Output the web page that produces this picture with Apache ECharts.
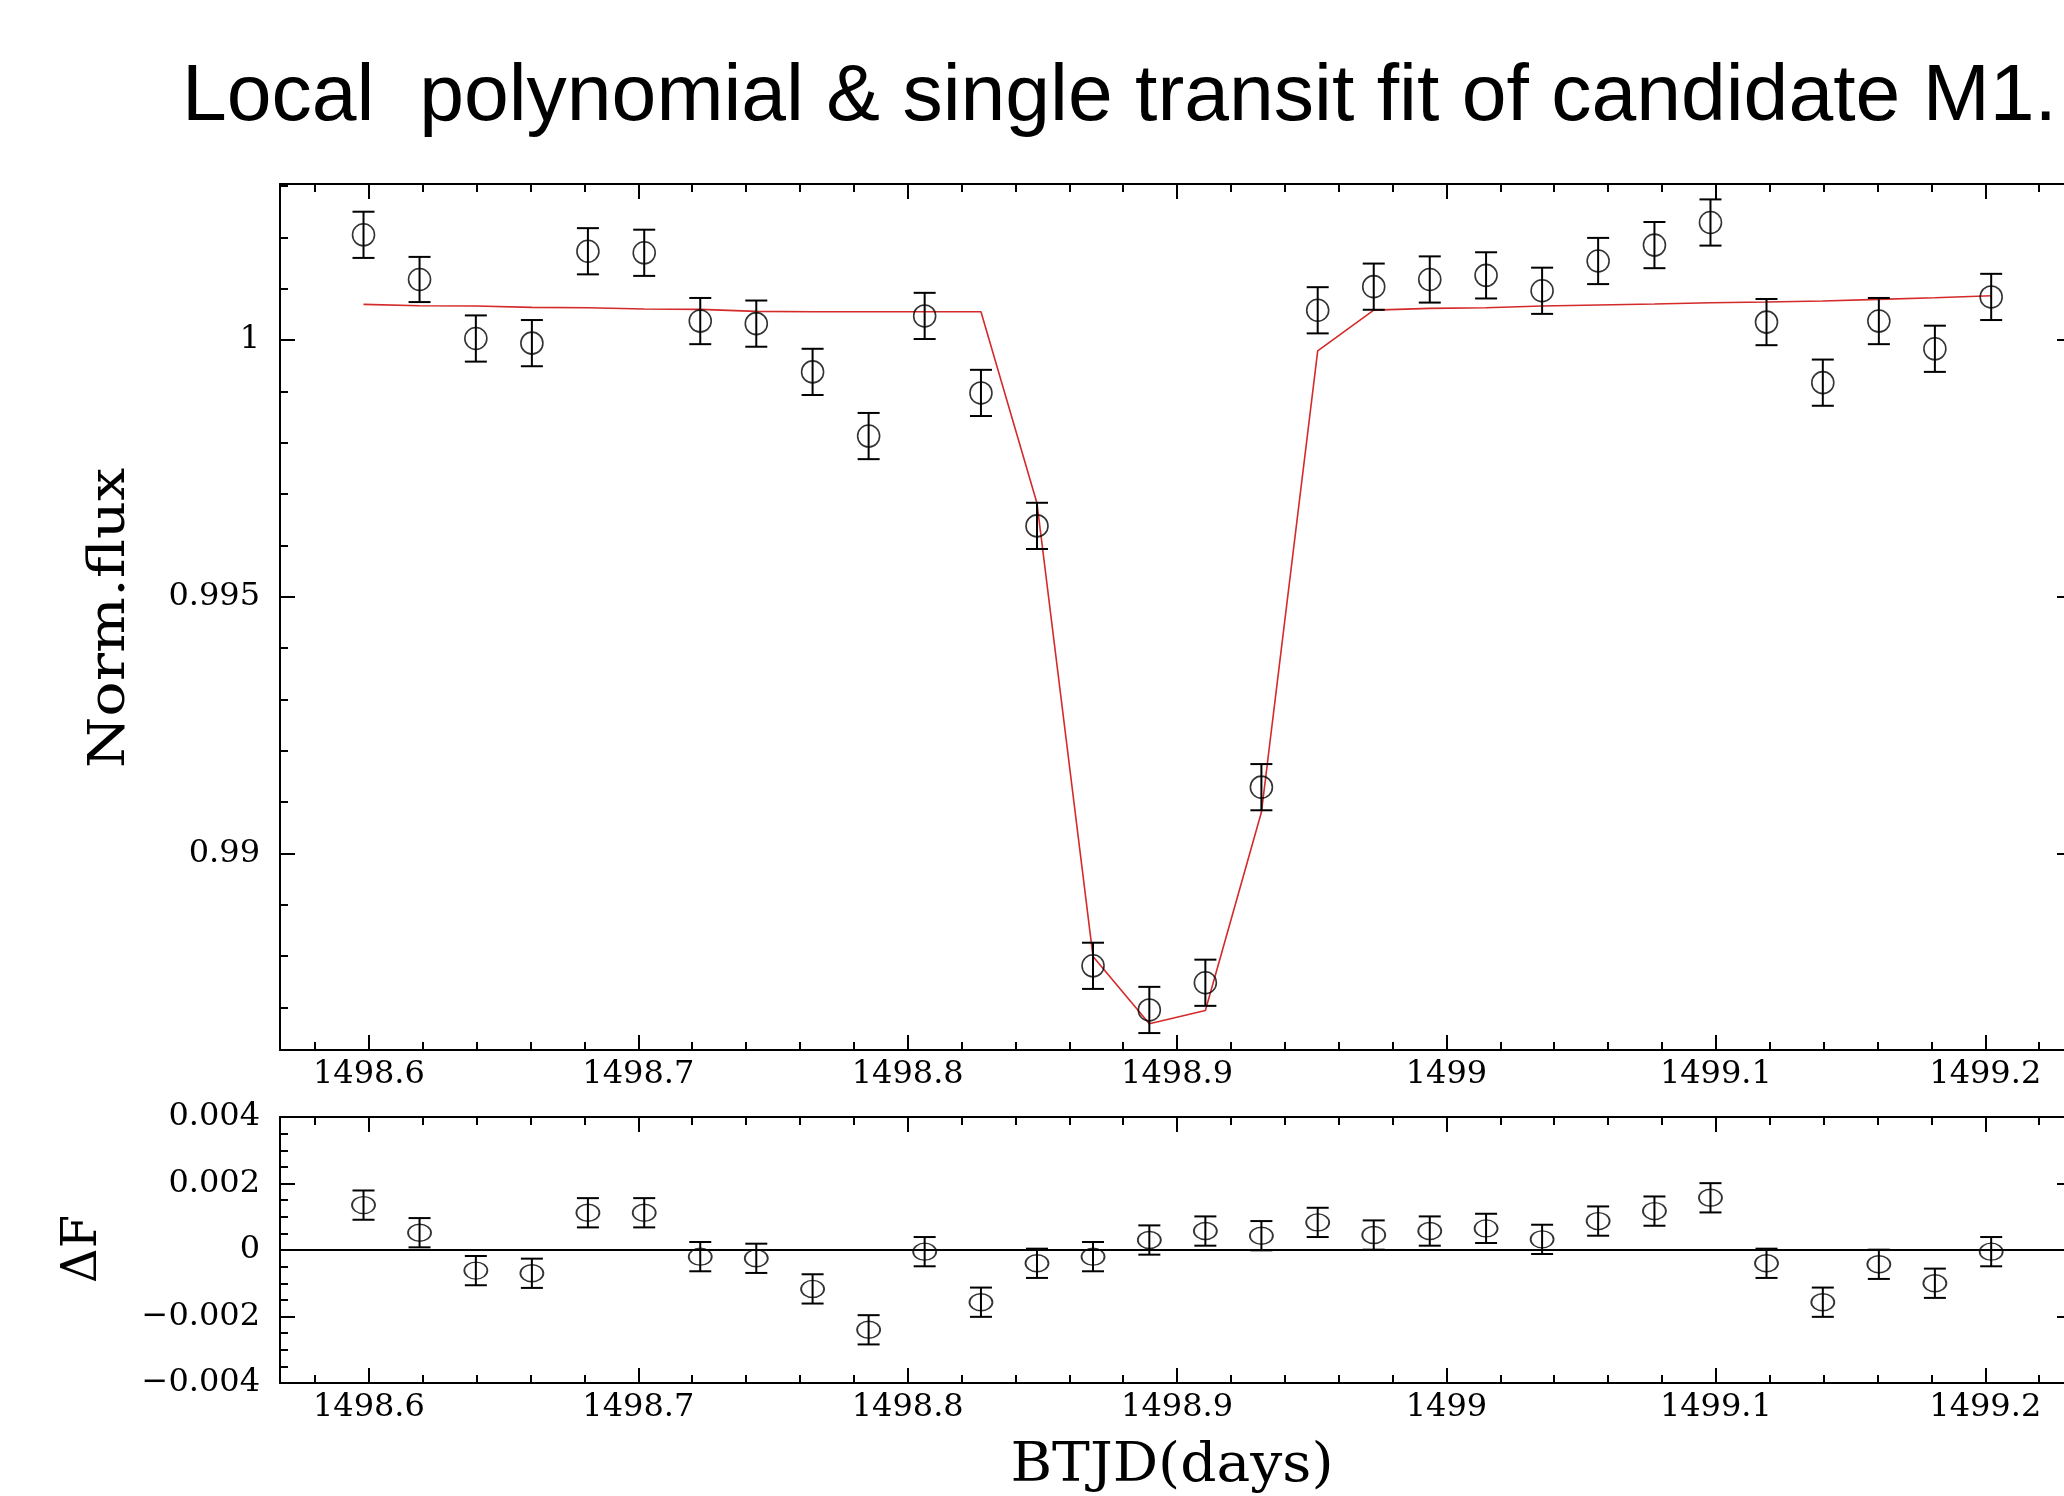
<!DOCTYPE html>
<html>
<head>
<meta charset="utf-8">
<script src="https://cdn.jsdelivr.net/npm/echarts@6/dist/echarts.min.js"></script>
<style>
html,body{margin:0;padding:0;background:#fff;}
#chart{width:2064px;height:1496px;}
</style>
</head>
<body>
<div id="chart"></div>
<script>
// ---- data ----
const times = [1498.5980, 1498.6188, 1498.6397, 1498.6605, 1498.6813, 1498.7022, 1498.7230, 1498.7438,
  1498.7647, 1498.7855, 1498.8063, 1498.8272, 1498.8480, 1498.8688, 1498.8897, 1498.9105, 1498.9313,
  1498.9522, 1498.9730, 1498.9938, 1499.0147, 1499.0355, 1499.0563, 1499.0772, 1499.0980, 1499.1188,
  1499.1397, 1499.1605, 1499.1813, 1499.2022];
const flux = [1.00205, 1.00118, 1.00003, 0.99994, 1.00173, 1.00170, 1.00037, 1.00032, 0.99938, 0.99813,
  1.00047, 0.99897, 0.99638, 0.98781, 0.98695, 0.98748, 0.99129, 1.00058, 1.00104, 1.00118,
  1.00126, 1.00096, 1.00154, 1.00185, 1.00229, 1.00035, 0.99917, 1.00037, 0.99983, 1.00084];
const fluxErr = [0.00045, 0.00044, 0.00045, 0.00045, 0.00045, 0.00045, 0.00045, 0.00045, 0.00045, 0.00045,
  0.00045, 0.00045, 0.00045, 0.00045, 0.00045, 0.00045, 0.00045, 0.00045, 0.00045, 0.00045,
  0.00045, 0.00045, 0.00045, 0.00045, 0.00045, 0.00045, 0.00045, 0.00045, 0.00045, 0.00045];
const model = [1.000695, 1.000669, 1.000662, 1.000636, 1.000630, 1.000604, 1.000597, 1.000558, 1.000550, 1.000550,
  1.000550, 1.000550, 0.99682, 0.98799, 0.98668, 0.98694, 0.99080, 0.99979, 1.000584, 1.000617,
  1.000630, 1.000662, 1.000682, 1.000701, 1.000727, 1.000740, 1.000760, 1.000793, 1.000825, 1.000863];
const resid = [0.00135, 0.00052, -0.00062, -0.00070, 0.00112, 0.00112, -0.00020, -0.00025, -0.00117, -0.00240,
  -0.00005, -0.00157, -0.00040, -0.00020, 0.00030, 0.00057, 0.00043, 0.00083, 0.00045, 0.00057,
  0.00065, 0.00032, 0.00087, 0.00117, 0.00157, -0.00040, -0.00157, -0.00043, -0.00100, -0.00005];
const residErr = [0.00044, 0.00044, 0.00044, 0.00044, 0.00044, 0.00044, 0.00044, 0.00044, 0.00044, 0.00044,
  0.00044, 0.00044, 0.00044, 0.00044, 0.00044, 0.00044, 0.00044, 0.00044, 0.00044, 0.00044,
  0.00044, 0.00044, 0.00044, 0.00044, 0.00044, 0.00044, 0.00044, 0.00044, 0.00044, 0.00044];

// ---- ticks and labels ----
const xMajorTicks = [1498.6, 1498.7, 1498.8, 1498.9, 1499.0, 1499.1, 1499.2];
const xMajorLabels = ['1498.6', '1498.7', '1498.8', '1498.9', '1499', '1499.1', '1499.2'];
const xMinorTicks = [1498.58, 1498.62, 1498.64, 1498.66, 1498.68, 1498.72, 1498.74, 1498.76, 1498.78,
  1498.82, 1498.84, 1498.86, 1498.88, 1498.92, 1498.94, 1498.96, 1498.98, 1499.02, 1499.04, 1499.06,
  1499.08, 1499.12, 1499.14, 1499.16, 1499.18, 1499.22];
const fluxMajorTicks = [0.99, 0.995, 1.0];
const fluxMajorLabels = ['0.99', '0.995', '1'];
const fluxMinorTicks = [0.987, 0.988, 0.989, 0.991, 0.992, 0.993, 0.994, 0.996, 0.997, 0.998, 0.999,
  1.001, 1.002, 1.003];
const residMajorTicks = [-0.004, -0.002, 0, 0.002, 0.004];
const residMajorLabels = ['\u22120.004', '\u22120.002', '0', '0.002', '0.004'];
const residMinorTicks = [-0.0035, -0.003, -0.0025, -0.0015, -0.001, -0.0005, 0.0005, 0.001, 0.0015,
  0.0025, 0.003, 0.0035];

const titleText = 'Local  polynomial & single transit fit of candidate M1.';
const yNameMain = 'Norm.flux';
const yNameResid = '\u0394F';
const xName = 'BTJD(days)';

// ---- ranges ----
const X_MIN = 1498.567, X_MAX = 1499.2322;
const F_MIN = 0.98617, F_MAX = 1.00304;
const R_MIN = -0.004, R_MAX = 0.004;

const SERIF = 'DejaVu Serif';
const MAJOR_LEN = 15, MINOR_LEN = 8;

function fmt(vals, labels) {
  return function (v) {
    for (let i = 0; i < vals.length; i++) {
      if (Math.abs(v - vals[i]) < 1e-9) return labels[i];
    }
    return '';
  };
}

function axis(kind, gi, pos, min, max, ticks, len, showLine, labels) {
  const a = {
    type: 'value', gridIndex: gi, position: pos, min: min, max: max, offset: 0,
    axisLine: {show: showLine, onZero: false, lineStyle: {color: '#000', width: 2}},
    axisTick: {show: true, inside: true, length: len, customValues: ticks,
      lineStyle: {color: '#000', width: 2}},
    splitLine: {show: false},
    minorTick: {show: false},
    axisPointer: {show: false}
  };
  if (labels) {
    a.axisLabel = {show: true, customValues: ticks, formatter: fmt(ticks, labels),
      fontFamily: SERIF, fontSize: 32, color: '#000',
      margin: kind === 'x' ? 9 : 20};
  } else {
    a.axisLabel = {show: false};
  }
  return a;
}

const xAxes = [
  axis('x', 0, 'bottom', X_MIN, X_MAX, xMajorTicks, MAJOR_LEN, true, xMajorLabels),
  axis('x', 0, 'bottom', X_MIN, X_MAX, xMinorTicks, MINOR_LEN, false, null),
  axis('x', 0, 'top', X_MIN, X_MAX, xMajorTicks, MAJOR_LEN, true, null),
  axis('x', 0, 'top', X_MIN, X_MAX, xMinorTicks, MINOR_LEN, false, null),
  axis('x', 1, 'bottom', X_MIN, X_MAX, xMajorTicks, MAJOR_LEN, true, xMajorLabels),
  axis('x', 1, 'bottom', X_MIN, X_MAX, xMinorTicks, MINOR_LEN, false, null),
  axis('x', 1, 'top', X_MIN, X_MAX, xMajorTicks, MAJOR_LEN, true, null),
  axis('x', 1, 'top', X_MIN, X_MAX, xMinorTicks, MINOR_LEN, false, null)
];
const yAxes = [
  axis('y', 0, 'left', F_MIN, F_MAX, fluxMajorTicks, MAJOR_LEN, true, fluxMajorLabels),
  axis('y', 0, 'left', F_MIN, F_MAX, fluxMinorTicks, MINOR_LEN, false, null),
  axis('y', 0, 'right', F_MIN, F_MAX, fluxMajorTicks, MAJOR_LEN, true, null),
  axis('y', 0, 'right', F_MIN, F_MAX, fluxMinorTicks, MINOR_LEN, false, null),
  axis('y', 1, 'left', R_MIN, R_MAX, residMajorTicks, MAJOR_LEN, true, residMajorLabels),
  axis('y', 1, 'left', R_MIN, R_MAX, residMinorTicks, MINOR_LEN, false, null),
  axis('y', 1, 'right', R_MIN, R_MAX, residMajorTicks, MAJOR_LEN, true, null),
  axis('y', 1, 'right', R_MIN, R_MAX, residMinorTicks, MINOR_LEN, false, null)
];

function errorBarRender(capHalf) {
  return function (params, api) {
    const x = api.value(0), y = api.value(1), e = api.value(2);
    const top = api.coord([x, y + e]);
    const bot = api.coord([x, y - e]);
    const st = {stroke: '#000', lineWidth: 2, fill: null};
    return {
      type: 'group',
      children: [
        {type: 'line', shape: {x1: top[0], y1: top[1], x2: bot[0], y2: bot[1]}, style: st},
        {type: 'line', shape: {x1: top[0] - capHalf, y1: top[1], x2: top[0] + capHalf, y2: top[1]}, style: st},
        {type: 'line', shape: {x1: bot[0] - capHalf, y1: bot[1], x2: bot[0] + capHalf, y2: bot[1]}, style: st}
      ]
    };
  };
}

const mainPts = times.map((t, i) => [t, flux[i], fluxErr[i]]);
const modelPts = times.map((t, i) => [t, model[i]]);
const residPts = times.map((t, i) => [t, resid[i], residErr[i]]);

const chart = echarts.init(document.getElementById('chart'), null, {renderer: 'canvas', width: 2064, height: 1496});

chart.setOption({
  animation: false,
  backgroundColor: '#ffffff',
  grid: [
    {left: 280, top: 184, width: 1792, height: 866, outerBoundsMode: 'none', containLabel: false},
    {left: 280, top: 1117, width: 1792, height: 266, outerBoundsMode: 'none', containLabel: false}
  ],
  xAxis: xAxes,
  yAxis: yAxes,
  tooltip: {show: false},
  legend: {show: false},
  graphic: [
    {type: 'text', x: 182, y: 98, silent: true,
      style: {text: titleText, fontFamily: 'Liberation Sans', fontSize: 80.5, fill: '#000',
        align: 'left', verticalAlign: 'middle'}},
    {type: 'text', x: 111, y: 618, rotation: Math.PI / 2, scaleX: 1.18, silent: true,
      style: {text: yNameMain, fontFamily: SERIF, fontSize: 50, fill: '#000',
        align: 'center', verticalAlign: 'middle'}},
    {type: 'text', x: 84, y: 1249, rotation: Math.PI / 2, silent: true,
      style: {text: yNameResid, fontFamily: SERIF, fontSize: 48, fill: '#000',
        align: 'center', verticalAlign: 'middle'}},
    {type: 'text', x: 1172, y: 1467, scaleX: 1.05, silent: true,
      style: {text: xName, fontFamily: SERIF, fontSize: 54, fill: '#000',
        align: 'center', verticalAlign: 'middle'}}
  ],
  series: [
    {type: 'line', xAxisIndex: 0, yAxisIndex: 0, data: modelPts, showSymbol: false, symbol: 'none',
      lineStyle: {color: '#d42a2a', width: 1.6}, z: 2, silent: true},
    {type: 'custom', xAxisIndex: 0, yAxisIndex: 0, data: mainPts, renderItem: errorBarRender(11),
      encode: {x: 0, y: 1}, z: 3, silent: true},
    {type: 'scatter', xAxisIndex: 0, yAxisIndex: 0, data: mainPts.map(p => [p[0], p[1]]),
      symbol: 'circle', symbolSize: [22, 22],
      itemStyle: {color: 'rgba(0,0,0,0)', borderColor: '#000', borderWidth: 1.6}, z: 4, silent: true},
    {type: 'custom', xAxisIndex: 4, yAxisIndex: 4, data: residPts, renderItem: errorBarRender(11),
      encode: {x: 0, y: 1}, z: 3, silent: true},
    {type: 'scatter', xAxisIndex: 4, yAxisIndex: 4, data: residPts.map(p => [p[0], p[1]]),
      symbol: 'circle', symbolSize: [23, 17],
      itemStyle: {color: 'rgba(0,0,0,0)', borderColor: '#000', borderWidth: 1.6}, z: 4, silent: true,
      markLine: {silent: true, symbol: ['none', 'none'], label: {show: false},
        lineStyle: {color: '#000', width: 2, type: 'solid'},
        data: [{yAxis: 0}]}}
  ]
});
</script>
</body>
</html>
